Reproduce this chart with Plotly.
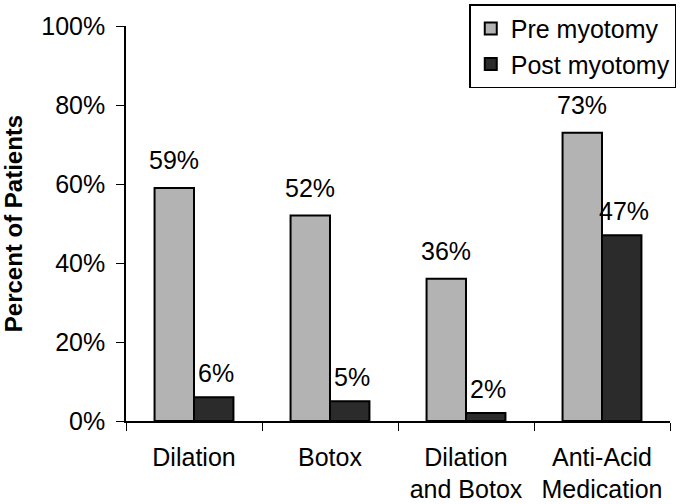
import plotly.graph_objects as go

categories = ["Dilation", "Botox", "Dilation<br>and Botox", "Anti-Acid<br>Medication"]
pre_myotomy = [59, 52, 36, 73]
post_myotomy = [6, 5, 2, 47]
y_ticks = [0, 20, 40, 60, 80, 100]
y_tick_labels = ["0%", "20%", "40%", "60%", "80%", "100%"]

FONT = "Liberation Sans, Arial, sans-serif"

fig = go.Figure()
fig.add_trace(go.Bar(
    x=categories, y=pre_myotomy, name="Pre myotomy",
    marker=dict(color="#b3b3b3", line=dict(color="black", width=2)),
))
fig.add_trace(go.Bar(
    x=categories, y=post_myotomy, name="Post myotomy",
    marker=dict(color="#2b2b2b", line=dict(color="black", width=2)),
))

# value labels above each bar
for cat, pre, post in zip(categories, pre_myotomy, post_myotomy):
    for val, shift, lift in ((pre, -20, 12), (post, 22, 8)):
        fig.add_annotation(
            x=cat, y=val, text=f"{val}%", showarrow=False,
            xshift=shift, yshift=lift, yanchor="bottom",
            font=dict(size=25, color="black", family=FONT),
        )

fig.update_layout(
    width=680, height=504,
    margin=dict(l=126, r=4, t=24, b=83),
    plot_bgcolor="white", paper_bgcolor="white",
    barmode="group", bargap=0.42, bargroupgap=0,
    font=dict(family=FONT, size=25, color="black"),
    legend=dict(
        x=0.631, xanchor="left", y=1.055, yanchor="top",
        bordercolor="black", borderwidth=1.5, bgcolor="white",
        font=dict(size=25),
    ),
    xaxis=dict(
        showline=True, linecolor="black", linewidth=1.5,
        ticks="outside", tickson="boundaries", ticklen=8, tickcolor="black",
        ticklabelstandoff=13, automargin=False,
    ),
    yaxis=dict(
        range=[0, 100], tickvals=y_ticks, ticktext=y_tick_labels,
        showline=True, linecolor="black", linewidth=1.5,
        ticks="outside", ticklen=8, tickcolor="black", showgrid=False,
        zeroline=False, ticklabelstandoff=6, automargin=False,
        title=dict(text="<b>Percent of Patients</b>", font=dict(size=24), standoff=14),
    ),
)

fig.write_html(
    "out.html",
    config={"displayModeBar": False},
    post_script="document.body.style.margin='0';",
)
